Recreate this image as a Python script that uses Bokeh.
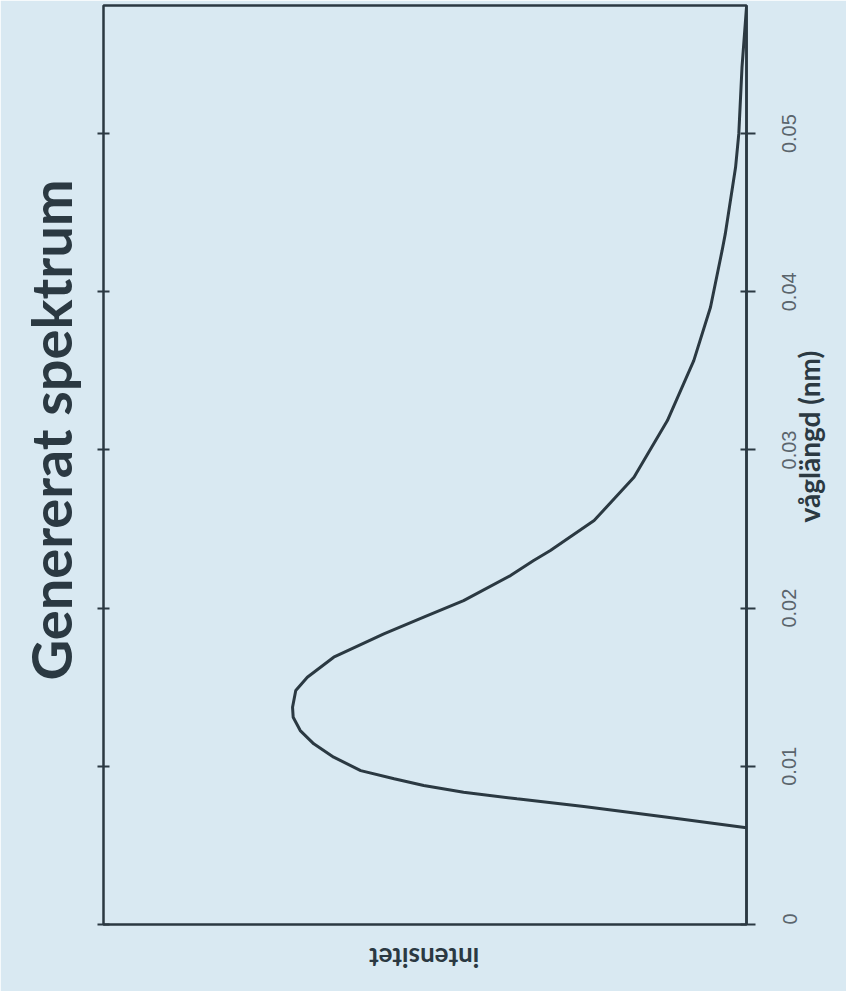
import math
from bokeh.plotting import figure
from bokeh.models import (LinearAxis, FixedTicker, Range1d)
from bokeh.embed import file_html
from bokeh.resources import INLINE

# ---- data ----
wavelength_nm = [0.00611, 0.00678, 0.00746, 0.00795, 0.00836, 0.00879, 0.00921, 0.00973,
                 0.01058, 0.01142, 0.01226, 0.01310, 0.01374, 0.01479, 0.01563, 0.01690,
                 0.01838, 0.01943, 0.02048, 0.02206, 0.02301, 0.02364, 0.02554, 0.02827,
                 0.03186, 0.03565, 0.03902, 0.04260, 0.04366, 0.04787, 0.04998, 0.05419,
                 0.05800]
intensity = [0.000, 0.123, 0.253, 0.357, 0.440, 0.502, 0.548, 0.600,
             0.642, 0.673, 0.694, 0.705, 0.706, 0.701, 0.683, 0.642,
             0.564, 0.502, 0.440, 0.367, 0.331, 0.305, 0.237, 0.175,
             0.123, 0.082, 0.056, 0.038, 0.033, 0.017, 0.012, 0.007,
             0.000]
tick_values = [0, 0.01, 0.02, 0.03, 0.04, 0.05]
tick_labels = ["0", "0.01", "0.02", "0.03", "0.04", "0.05"]

title_text = "Genererat spektrum"
x_label = "våglängd (nm)"
y_label = "intensitet"

# ---- styles / layout ----
BG = "#d9e9f2"
DARK = "#2b3942"
TICKTXT = "#5a646c"
FRAME_W, FRAME_H = 643, 919
X_START, X_END = 1.0, 0.0          # intensity axis drawn right-to-left (rotated chart)
Y_START, Y_END = 0.0, 0.0581
PX_Y = FRAME_H / (Y_END - Y_START)
PX_X = FRAME_W / abs(X_END - X_START)

TICK_FS = 20                       # px, Liberation Sans
ARIAL_W = {c: 0.556 for c in "0123456789"}
ARIAL_W["."] = 0.278
LABEL_FS = 28                      # px, Lato bold
XLAB_LEN = 6.19 * LABEL_FS         # rendered length of the wavelength title
XLAB_CENTER = 0.0309               # where its centre sits along the wavelength axis
YLAB_FS = 26
YLAB_LEN = 112                     # rendered length of the intensity title
YLAB_CENTER = 0.5                  # middle of the intensity axis


def both_keys(d):
    out = {}
    for k, v in d.items():
        out[k] = v
        out[repr(k)] = v
    return out


p = figure(frame_width=FRAME_W, frame_height=FRAME_H,
           x_range=Range1d(X_START, X_END), y_range=Range1d(Y_START, Y_END),
           x_axis_location=None, y_axis_location=None,
           title=title_text, title_location="left",
           output_backend="svg", toolbar_location=None,
           min_border_left=103, min_border_right=0,
           min_border_top=5, min_border_bottom=0)

p.background_fill_color = BG
p.border_fill_color = BG
p.outline_line_color = DARK
p.outline_line_width = 2.5
p.grid.visible = False

p.title.text_font = "Lato"
p.title.text_font_size = "56px"
p.title.text_font_style = "bold"
p.title.text_color = DARK
p.title.align = "left"
p.title.offset = 244
p.title.standoff = 28


def hidden_labels(axis):
    axis.major_label_text_color = None
    axis.major_label_text_font_size = "1px"
    axis.major_label_standoff = 0


# right axis: tick marks only (crossing the frame edge)
ax = LinearAxis(ticker=FixedTicker(ticks=tick_values))
hidden_labels(ax)
ax.major_tick_in = 6
ax.major_tick_out = 9
ax.major_tick_line_color = DARK
ax.major_tick_line_width = 2
ax.minor_tick_line_color = None
ax.axis_line_color = DARK
ax.axis_line_width = 2.5
p.add_layout(ax, "right")

# right axis: tick labels, centred on the tick marks (text starts at its anchor)
lab_pos, lab_map = [], {}
for v, t in zip(tick_values, tick_labels):
    length = sum(ARIAL_W[c] for c in t) * TICK_FS
    pos = max(Y_START, round(v - (length / 2) / PX_Y, 7))
    lab_pos.append(pos)
    lab_map[pos] = t
axt = LinearAxis(ticker=FixedTicker(ticks=lab_pos))
axt.major_label_overrides = both_keys(lab_map)
axt.major_label_orientation = math.pi / 2
axt.major_label_text_font = "Liberation Sans"
axt.major_label_text_font_size = f"{TICK_FS}px"
axt.major_label_text_color = TICKTXT
axt.major_label_standoff = 34
axt.major_tick_in = 0
axt.major_tick_out = 0
axt.major_tick_line_color = None
axt.minor_tick_line_color = None
axt.axis_line_color = None
p.add_layout(axt, "right")

# right axis: wavelength title
xl_pos = round(XLAB_CENTER - (XLAB_LEN / 2) / PX_Y, 7)
axl = LinearAxis(ticker=FixedTicker(ticks=[xl_pos]))
axl.major_label_overrides = both_keys({xl_pos: x_label})
axl.major_label_orientation = math.pi / 2
axl.major_label_text_font = "Lato"
axl.major_label_text_font_style = "bold"
axl.major_label_text_font_size = f"{LABEL_FS}px"
axl.major_label_text_color = DARK
axl.major_label_standoff = 3
axl.major_tick_in = 0
axl.major_tick_out = 0
axl.major_tick_line_color = None
axl.minor_tick_line_color = None
axl.axis_line_color = None
p.add_layout(axl, "right")

# left axis: mirrored ticks only
ax2 = LinearAxis(ticker=FixedTicker(ticks=tick_values))
hidden_labels(ax2)
ax2.major_tick_in = 6
ax2.major_tick_out = 6
ax2.major_tick_line_color = DARK
ax2.major_tick_line_width = 2
ax2.minor_tick_line_color = None
ax2.axis_line_color = None
p.add_layout(ax2, "left")

# bottom axis: upside-down intensity title
yl_pos = round(YLAB_CENTER + (YLAB_LEN / 2) / PX_X, 7)
bx = LinearAxis(ticker=FixedTicker(ticks=[yl_pos]))
bx.major_label_overrides = both_keys({yl_pos: y_label})
bx.major_label_orientation = math.pi
bx.major_label_text_font = "Lato"
bx.major_label_text_font_style = "bold"
bx.major_label_text_font_size = f"{YLAB_FS}px"
bx.major_label_text_color = DARK
bx.major_label_standoff = 33
bx.major_tick_in = 0
bx.major_tick_out = 0
bx.major_tick_line_color = None
bx.minor_tick_line_color = None
bx.axis_line_color = None
p.add_layout(bx, "below")

p.line(intensity, wavelength_nm, line_color=DARK, line_width=3)

open("out.html", "w").write(file_html(p, INLINE))
